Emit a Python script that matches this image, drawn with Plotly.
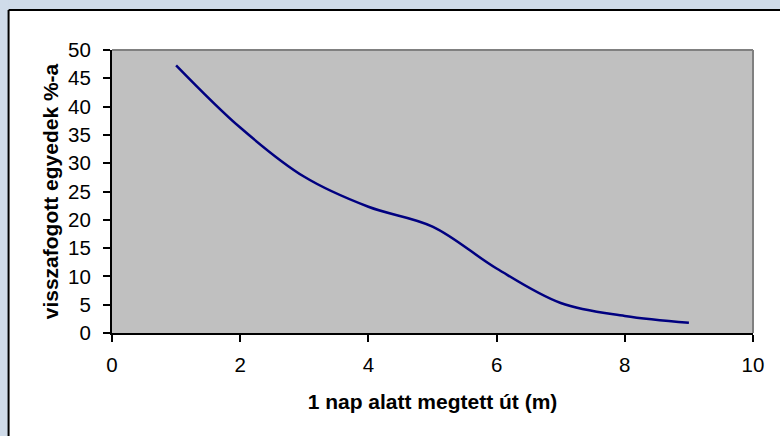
import plotly.graph_objects as go

distance_m = [1, 2, 3, 4, 5, 6, 7, 8, 9]
recaptured_pct = [47.3, 36.3, 27.6, 22.3, 18.8, 11.4, 5.3, 3.0, 1.8]

x_ticks = [0, 2, 4, 6, 8, 10]
y_ticks = [0, 5, 10, 15, 20, 25, 30, 35, 40, 45, 50]

W, H = 780, 436
L, R, T, B = 111.5, 27, 49.5, 103
pw, ph = W - L - R, H - T - B

def px_x(px):
    return (px - L) / pw

def px_y(py):
    return (H - B - py) / ph

fig = go.Figure()
fig.add_trace(go.Scatter(
    x=distance_m, y=recaptured_pct, mode="lines",
    line=dict(color="#000080", width=2.5, shape="spline", smoothing=1.0),
    showlegend=False, hoverinfo="skip"))

font = "Liberation Sans, Arial, sans-serif"
shapes = [
    dict(type="rect", xref="paper", yref="paper", x0=px_x(-5), x1=px_x(W + 5), y0=px_y(9), y1=px_y(-5),
         fillcolor="#cfdbe9", line=dict(width=0), layer="above"),
    dict(type="rect", xref="paper", yref="paper", x0=px_x(-5), x1=px_x(7.5), y0=px_y(H + 5), y1=px_y(-5),
         fillcolor="#cfdbe9", line=dict(width=0), layer="above"),
    dict(type="line", xref="paper", yref="paper", x0=px_x(8), x1=px_x(W + 5), y0=px_y(9.5), y1=px_y(9.5),
         line=dict(color="#000000", width=2), layer="above"),
    dict(type="line", xref="paper", yref="paper", x0=px_x(8), x1=px_x(8), y0=px_y(9.5), y1=px_y(H + 5),
         line=dict(color="#000000", width=2), layer="above"),
    dict(type="line", xref="paper", yref="paper", x0=0, x1=1, y0=1, y1=1,
         line=dict(color="#808080", width=2), layer="above"),
    dict(type="line", xref="paper", yref="paper", x0=1, x1=1, y0=0, y1=1,
         line=dict(color="#808080", width=2), layer="above"),
]

fig.update_layout(
    width=W, height=H,
    margin=dict(l=L, r=R, t=T, b=B, pad=0),
    paper_bgcolor="#ffffff",
    plot_bgcolor="#c0c0c0",
    font=dict(family=font, size=20, color="#000000"),
    shapes=shapes,
    xaxis=dict(range=[0, 10], tickvals=x_ticks, ticks="outside", ticklen=7, tickwidth=1.5,
               tickcolor="#000000", showline=True, linecolor="#000000", linewidth=2,
               showgrid=False, zeroline=False, tickfont=dict(size=20.5, family=font),
               ticklabelstandoff=5,
               title=dict(text="<b>1 nap alatt megtett út (m)</b>", font=dict(size=21, family=font), standoff=20)),
    yaxis=dict(range=[0, 50], tickvals=y_ticks, ticks="outside", ticklen=7, tickwidth=1.5,
               tickcolor="#000000", showline=True, linecolor="#000000", linewidth=2,
               showgrid=False, zeroline=False, tickfont=dict(size=20.5, family=font),
               ticklabelstandoff=8,
               title=dict(text="<b>visszafogott egyedek %-a</b>", font=dict(size=21, family=font), standoff=4)),
)

fig.write_html("out.html")
